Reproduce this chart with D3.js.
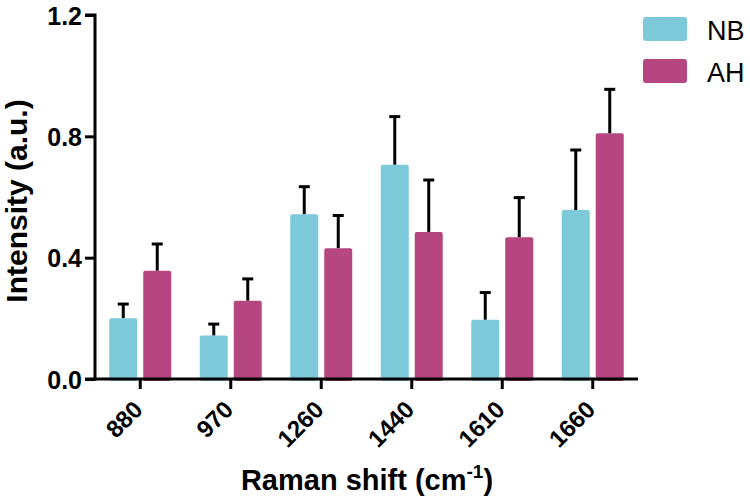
<!DOCTYPE html>
<html><head><meta charset="utf-8">
<script src="https://cdn.jsdelivr.net/npm/d3@7"></script>
<style>body{margin:0;background:#fff;} svg{display:block;}</style>
</head><body>
<svg id="c" width="750" height="502"></svg>
<script>
const categories = ["880","970","1260","1440","1610","1660"];
const seriesNames = ["NB","AH"];
const nbValues = [0.200,0.143,0.543,0.706,0.195,0.557];
const nbErrors = [0.047,0.038,0.091,0.159,0.090,0.198];
const ahValues = [0.357,0.258,0.431,0.485,0.467,0.810];
const ahErrors = [0.088,0.072,0.108,0.171,0.131,0.145];
const yTicks = [0.0,0.4,0.8,1.2];
const colors = {NB:"#7cc9da", AH:"#b5467f"};

(function(){
const svg = d3.select("#c");
const mL = 95, mR = 638, mT = 15, mB = 379;
const x0 = d3.scaleBand().domain(categories).range([mL,mR]).paddingInner(0.315).paddingOuter(0.1575);
const x1 = d3.scaleBand().domain(seriesNames).range([0,x0.bandwidth()]).paddingInner(0.176);
const y = d3.scaleLinear().domain([0,1.2]).range([mB,mT]);

const data = categories.map((c,i)=>({cat:c, items:[
  {s:"NB", v:nbValues[i], e:nbErrors[i]},
  {s:"AH", v:ahValues[i], e:ahErrors[i]}]}));

const g = svg.append("g");
const groups = g.selectAll("g.grp").data(data).join("g").attr("class","grp")
  .attr("transform",d=>`translate(${x0(d.cat)},0)`);
groups.selectAll("line.err").data(d=>d.items).join("line").attr("class","err")
  .attr("x1",d=>x1(d.s)+x1.bandwidth()/2).attr("x2",d=>x1(d.s)+x1.bandwidth()/2)
  .attr("y1",d=>y(d.v)).attr("y2",d=>y(d.v+d.e))
  .attr("stroke","#000").attr("stroke-width",3);
groups.selectAll("line.cap").data(d=>d.items).join("line").attr("class","cap")
  .attr("x1",d=>x1(d.s)+x1.bandwidth()/2-5.5).attr("x2",d=>x1(d.s)+x1.bandwidth()/2+5.5)
  .attr("y1",d=>y(d.v+d.e)).attr("y2",d=>y(d.v+d.e))
  .attr("stroke","#000").attr("stroke-width",3);
groups.selectAll("rect").data(d=>d.items).join("rect")
  .attr("x",d=>x1(d.s)).attr("width",x1.bandwidth())
  .attr("y",d=>y(d.v)).attr("height",d=>y(0)-y(d.v)+2)
  .attr("rx",2).attr("fill",d=>colors[d.s]);

const font = "'Liberation Sans', Arial, sans-serif";
const yAxis = svg.append("g").attr("transform",`translate(${mL},0)`)
  .call(d3.axisLeft(y).tickValues(yTicks).tickFormat(d3.format(".1f")).tickSize(10).tickPadding(3));
const xAxis = svg.append("g").attr("transform",`translate(0,${mB})`)
  .call(d3.axisBottom(x0).tickSize(10).tickSizeOuter(0));
[yAxis,xAxis].forEach(a=>{
  a.select(".domain").attr("stroke","#000").attr("stroke-width",3);
  a.selectAll(".tick line").attr("stroke","#000").attr("stroke-width",3);
  a.selectAll("text").attr("fill","#000").style("font-family",font)
    .style("font-weight","bold").style("font-size","24px");
});
yAxis.selectAll(".tick text").style("font-size","25px").attr("dy","0.36em");
yAxis.select(".domain").attr("d",`M-10,${mB}H0V${mT}H-10`);
xAxis.select(".domain").attr("d",`M${mL},0H${mR}`);
xAxis.selectAll(".tick text")
  .attr("text-anchor","end").attr("dy","0").attr("y",0)
  .attr("transform","translate(4,32) rotate(-45)");

svg.append("text").attr("transform",`translate(27,${(mT+mB)/2+4}) rotate(-90)`)
  .attr("text-anchor","middle").style("font-family",font).style("font-weight","bold")
  .style("font-size","30px").text("Intensity (a.u.)");
const xt = svg.append("text").attr("x",367).attr("y",490).attr("text-anchor","middle")
  .style("font-family",font).style("font-weight","bold").style("font-size","29px");
xt.append("tspan").text("Raman shift (cm");
xt.append("tspan").attr("dy","-12").style("font-size","19px").text("-1");
xt.append("tspan").attr("dy","12").text(")");

const leg = svg.append("g");
seriesNames.forEach((s,i)=>{
  leg.append("rect").attr("x",643).attr("y",17+i*42).attr("width",44).attr("height",24)
    .attr("rx",3).attr("fill",colors[s]);
  leg.append("text").attr("x",707).attr("y",40+i*42).style("font-family",font)
    .style("font-size","27px").attr("fill","#000").text(s);
});
})();
</script>
</body></html>
